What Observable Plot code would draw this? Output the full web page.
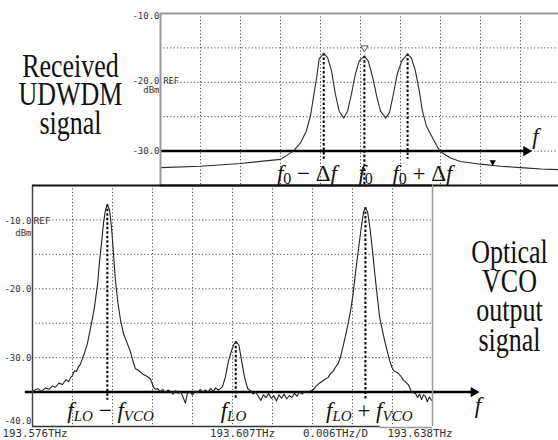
<!DOCTYPE html>
<html><head><meta charset="utf-8">
<script src="https://cdn.jsdelivr.net/npm/d3@7"></script>
<script src="https://cdn.jsdelivr.net/npm/@observablehq/plot@0.6"></script>
<style>
body{margin:0;background:#fff}
#wrap{position:relative;width:558px;height:440px;overflow:hidden;background:#fff}
#top,#bot{position:absolute;left:0}
#top{top:0;width:560px}
#bot{top:180px;width:558px}
#wrap svg{max-width:none !important;overflow:visible}
</style></head><body>
<div id="wrap"><div id="top"></div><div id="bot"></div></div>
<script>
// ---------- data (frequency offsets in GHz from 193.576 THz, power in dBm) ----------
const topSpan = [20, 82];
const botSpan = [0, 62];
const divGHz = 6.2;

const topFreq = [20.0, 26.2, 32.4, 35.5, 38.6, 40.6, 41.7, 42.6, 43.25, 43.7,
  44.2, 44.6, 45.3, 45.9, 46.5, 47.1, 47.7, 48.4, 49.0, 49.6,
  50.2, 50.8, 51.6, 52.2, 52.9, 53.5, 54.1, 54.9, 55.5, 56.1,
  56.7, 57.4, 58.3, 58.9, 59.5, 60.1, 60.6, 61.2, 61.85, 62.8,
  63.4, 64.95, 66.5, 69.6, 72.7, 75.8, 79.0, 82.0];
const topPower = [-32.4, -32.2, -31.8, -31.5, -31.2, -30.0, -28.8, -27.1, -24.9, -22.2,
  -19.3, -16.6, -15.8, -16.4, -18.3, -21.7, -24.2, -25.2, -24.2, -21.7,
  -18.8, -16.9, -16.2, -16.9, -19.3, -22.0, -24.2, -25.2, -24.4, -21.7,
  -18.8, -16.9, -15.9, -16.5, -18.3, -21.2, -24.2, -26.3, -27.5, -29.2,
  -30.1, -31.0, -31.5, -31.9, -32.2, -32.4, -32.6, -32.7];

const botFreq = [
  0.15, 0.8, 1.4, 2.0, 2.6, 3.1, 3.55, 4.1, 4.65, 5.2, 5.6, 5.9, 6.2, 6.5, 6.8, 7.15, 7.45, 7.75,
  8.1, 8.5, 8.8, 9.15, 9.6, 10.1, 10.4, 10.7, 11.0, 11.3, 11.6, 11.95, 12.25, 12.55, 12.85, 13.25,
  13.65, 14.1, 14.55, 15.2, 15.6, 15.95, 16.35, 16.75, 17.1, 17.5, 17.9, 18.3, 18.75, 19.1, 19.4,
  19.8, 20.2, 20.6, 21.0, 21.4, 21.8, 22.2, 22.6, 23.0, 23.4, 23.7, 24.0, 24.4, 24.8, 25.2, 25.6,
  26.0, 26.4, 26.8, 27.2, 27.6, 28.0, 28.4, 28.8, 29.1,
  29.45, 29.9, 30.4, 30.85, 31.25, 31.6, 32.0, 32.4, 32.85, 33.35, 33.8,
  34.2, 34.6, 35.0, 35.4, 35.8, 36.2, 36.6, 37.0, 37.4, 37.8, 38.2, 38.6, 39.0, 39.4, 39.8, 40.2,
  40.6, 41.0, 41.4, 41.8, 42.2, 42.7, 43.1,
  43.4, 43.9, 44.35, 44.8, 45.4, 45.8, 46.2, 46.6, 46.95, 47.35, 47.75, 48.35, 48.8, 49.3, 49.7,
  50.05, 50.5, 50.9, 51.3, 51.6, 51.95, 52.3, 52.7, 53.0, 53.45, 53.8, 54.25, 54.7, 55.35, 55.7,
  56.0, 56.4, 56.75, 57.1, 57.5, 57.9, 58.3, 58.75, 59.05, 59.35, 59.7, 60.0, 60.3, 60.6, 60.9,
  61.2, 61.5, 61.85];
const botPower = [
  -34.8, -34.5, -34.9, -34.4, -34.6, -34.1, -34.3, -33.7, -33.9, -33.2, -33.5, -32.9, -32.6, -31.9, -32.0, -31.3, -30.9, -30.1,
  -29.2, -28.0, -26.6, -25.0, -22.7, -19.2, -15.9, -13.4, -10.5, -8.6, -7.8, -8.6, -11.1, -14.9, -18.8, -22.1,
  -24.6, -26.5, -27.6, -29.2, -30.6, -31.6, -31.8, -32.1, -32.4, -32.6, -32.8, -33.1, -34.3, -34.6, -34.5,
  -34.9, -34.6, -35.1, -34.7, -34.9, -35.3, -34.8, -35.2, -35.0, -35.9, -36.6, -35.2, -35.0, -35.4, -34.9, -35.1,
  -34.6, -35.0, -34.7, -35.0, -34.5, -34.9, -34.4, -34.7, -34.5,
  -34.2, -32.8, -30.4, -29.0, -28.0, -27.7, -28.2, -30.4, -32.8, -34.5, -34.8,
  -35.3, -35.0, -35.6, -36.2, -35.4, -35.8, -35.2, -35.9, -35.5, -36.3, -35.4, -35.9, -35.3, -36.0, -35.5, -35.8,
  -35.2, -35.6, -35.0, -35.3, -34.9, -35.1, -34.8,
  -34.8, -34.2, -33.8, -33.5, -33.1, -32.9, -32.3, -32.0, -31.4, -30.9, -29.9, -27.5, -25.6, -23.2, -20.7,
  -17.8, -14.4, -11.5, -8.9, -8.2, -8.9, -11.1, -14.4, -17.3, -21.2, -24.1, -26.1, -28.0, -30.4, -31.4,
  -31.9, -32.1, -32.3, -32.7, -33.3, -33.6, -34.0, -35.0, -35.1, -35.2, -35.8, -35.3, -36.1, -35.4, -35.6,
  -36.4, -35.7, -36.2];

// marker lines (dashed) : frequency, peak power, lower end
const topMarkFreq = [45.3, 51.6, 58.3];
const topMarkPeak = [-15.8, -16.2, -15.9];
const topMarkEnd = [-31.2, -35, -31.2];
const botMarkFreq = [11.6, 31.5, 51.6];
const botMarkPeak = [-7.8, -27.7, -8.2];
const botMarkEnd = [-36.2, -36.2, -36.0];

// label texts
const topLabelFreq = [42.7, 51.8, 60.6];
const topLabelParts = [
  [["f", "i"], ["0", "s"], ["\u00a0\u2212\u00a0\u0394", "r"], ["f", "i"]],
  [["f", "i"], ["0", "s"]],
  [["f", "i"], ["0", "s"], ["\u00a0+\u00a0\u0394", "r"], ["f", "i"]]
];
const botLabelFreq = [12.1, 31.15, 52.2];
const botLabelParts = [
  [["f", "i"], ["LO", "si"], ["\u00a0\u2212\u00a0", "r"], ["f", "i"], ["VCO", "si"]],
  [["f", "i"], ["LO", "si"]],
  [["f", "i"], ["LO", "si"], ["\u00a0+\u00a0", "r"], ["f", "i"], ["VCO", "si"]]
];
const topTicks = [-10, -20, -30];
const topTickLabels = ["-10.0", "-20.0", "-30.0"];
const botTicks = [-10, -20, -30, -40];
const botTickLabels = ["-10.0", "-20.0", "-30.0", "-40.0"];
const freqLabels = ["193.576THz", "193.607THz", "0.006THz/D", "193.638THz"];
const leftCaption = "Received\nUDWDM\nsignal";
const rightCaption = "Optical\nVCO\noutput\nsignal";

// ---------- helpers ----------
const topData = topFreq.map((f, i) => ({f, p: topPower[i]}));
const botData = botFreq.map((f, i) => ({f, p: botPower[i]}));
const topMarks = topMarkFreq.map((f, i) => ({f, peak: topMarkPeak[i], end: topMarkEnd[i]}));
const botMarks = botMarkFreq.map((f, i) => ({f, peak: botMarkPeak[i], end: botMarkEnd[i]}));
const plain = parts => parts.map(p => p[0]).join("");

const serif = "'Liberation Serif','Times New Roman',serif";
const mono = "'DejaVu Sans Mono','Liberation Mono',monospace";
const grid = {stroke: "#4d4d4d", strokeWidth: 1, strokeDasharray: "1.2,2.2"};
const dash = {stroke: "#000", strokeWidth: 2, strokeDasharray: "2.5,2"};
const tick = {fontFamily: mono, fontSize: 9, fill: "#333"};

function stretch(svg, k) {
  d3.select(svg).selectAll('g[aria-description="stretch"] text').each(function() {
    const t = this.getAttribute("transform");
    if (t) this.setAttribute("transform", t + ` scale(1,${k})`);
    else { this.style.transformBox = "fill-box"; this.style.transformOrigin = "center bottom"; this.style.transform = `scaleY(${k})`; }
  });
}
function mathify(svg, desc, partsList, subSize, shift) {
  d3.select(svg).selectAll(`g[aria-description="${desc}"] text`).each(function(d, i) {
    const idx = typeof d === "number" ? d : i;
    const parts = partsList[idx];
    if (!parts) return;
    const sel = d3.select(this);
    sel.text(null);
    let down = false;
    for (const [s, kind] of parts) {
      const isSub = kind === "s" || kind === "si";
      const t = sel.append("tspan").text(s);
      t.attr("font-style", (kind === "i" || kind === "si") ? "italic" : "normal");
      if (isSub) t.attr("font-size", subSize);
      if (isSub && !down) { t.attr("dy", shift); down = true; }
      else if (!isSub && down) { t.attr("dy", -shift); down = false; }
    }
  });
}

// ---------- top panel ----------
const topGridX = d3.range(1, 11).map(i => topSpan[0] + i * divGHz);
const topPlot = Plot.plot({
  width: 560, height: 190,
  marginLeft: 160, marginRight: 0, marginTop: 13, marginBottom: 5,
  x: {domain: topSpan, axis: null},
  y: {domain: [-35, -10], axis: null},
  style: {background: "transparent", overflow: "visible"},
  marks: [
    Plot.ruleX(topGridX, {y1: -10, y2: -35, ...grid}),
    Plot.ruleY([-15, -20, -25, -30], {x1: topSpan[0], x2: topSpan[1], ...grid}),
    Plot.ruleY([-30], {x1: topSpan[0], x2: 77.0, stroke: "#000", strokeWidth: 2.5}),
    Plot.dot([{f: 77.6, p: -30}], {x: "f", y: "p", symbol: "triangle", r: 3.8, rotate: 90, dx: -5.9, fill: "#000", stroke: "none"}),
    Plot.ruleX(topMarks, {x: "f", y1: "peak", y2: "end", ...dash}),
    Plot.line(topData, {x: "f", y: "p", stroke: "#2b2b2b", strokeWidth: 1.1}),
    Plot.dot([{f: 51.6, p: -15.0}], {x: "f", y: "p", symbol: "triangle", r: 2.6, rotate: 180, fill: "#fff", stroke: "#555", strokeWidth: 1}),
    Plot.dot([{f: 71.5, p: -31.6}], {x: "f", y: "p", symbol: "triangle", r: 2.3, rotate: 180, fill: "#000", stroke: "none"}),
    Plot.ruleY([-10], {x1: topSpan[0], x2: topSpan[1], stroke: "#999", strokeWidth: 2}),
    Plot.ruleX([topSpan[0]], {y1: -10, y2: -35, stroke: "#999", strokeWidth: 2}),
    Plot.ruleY([-35], {x1: topSpan[0], x2: topSpan[1], stroke: "#111", strokeWidth: 2}),
    Plot.text([topTickLabels[0]], {y: () => topTicks[0], frameAnchor: "left", textAnchor: "end", dx: -1, dy: 3, ...tick}),
    Plot.text([topTickLabels[1]], {y: () => topTicks[1], frameAnchor: "left", textAnchor: "end", dx: -1, dy: -1, ...tick}),
    Plot.text([topTickLabels[2]], {y: () => topTicks[2], frameAnchor: "left", textAnchor: "end", dx: -1, ...tick}),
    Plot.text(["REF"], {y: () => topTicks[1], frameAnchor: "left", textAnchor: "start", dx: 3, dy: -1, ...tick, fontSize: 8.5}),
    Plot.text(["dBm"], {y: () => topTicks[1], frameAnchor: "left", textAnchor: "end", dx: -1, dy: 8, ...tick}),
    Plot.text([leftCaption], {frameAnchor: "top-left", dx: -90, dy: 120, textAnchor: "middle", lineAnchor: "bottom", lineHeight: 0.843, fontFamily: serif, fontSize: 26, fill: "#111", ariaDescription: "stretch"}),
    Plot.text(topLabelParts.map(plain), {x: (d, i) => topLabelFreq[i], y: () => -34.4, textAnchor: "middle", lineAnchor: "bottom", fontFamily: serif, fontSize: 23, fill: "#111", ariaDescription: "ftop"}),
    Plot.text(["f"], {x: () => 78.1, y: () => -28.9, textAnchor: "middle", lineAnchor: "bottom", fontFamily: serif, fontSize: 23, fontStyle: "italic", fill: "#111"})
  ]
});
stretch(topPlot, 1.3);
mathify(topPlot, "ftop", topLabelParts, 16, 3);
document.getElementById("top").appendChild(topPlot);

// ---------- bottom panel ----------
const botGridX = d3.range(1, 10).map(i => botSpan[0] + i * divGHz);
const botPlot = Plot.plot({
  width: 558, height: 260,
  marginLeft: 32, marginRight: 126, marginTop: 5, marginBottom: 14,
  x: {domain: botSpan, axis: null},
  y: {domain: [-40, -5], axis: null},
  style: {background: "transparent", overflow: "visible"},
  marks: [
    Plot.ruleX(botGridX, {y1: -5, y2: -40, ...grid}),
    Plot.ruleY([-10, -15, -20, -25, -30, -35], {x1: botSpan[0], x2: botSpan[1], ...grid}),
    Plot.ruleY([-35], {x1: -1.1, x2: 68.6, stroke: "#000", strokeWidth: 2.5}),
    Plot.dot([{f: 69.3, p: -35}], {x: "f", y: "p", symbol: "triangle", r: 3.8, rotate: 90, dx: -5.9, fill: "#000", stroke: "none"}),
    Plot.ruleX(botMarks, {x: "f", y1: "peak", y2: "end", ...dash}),
    Plot.line(botData, {x: "f", y: "p", stroke: "#222", strokeWidth: 1.1}),
    Plot.ruleX([botSpan[0]], {y1: -5, y2: -40, stroke: "#444", strokeWidth: 1.5}),
    Plot.ruleX([botSpan[1]], {y1: -5, y2: -40, stroke: "#999", strokeWidth: 1.5}),
    Plot.ruleY([-40], {x1: botSpan[0], x2: 53.9, stroke: "#333", strokeWidth: 1.5}),
    Plot.ruleY([-40], {x1: 53.9, x2: botSpan[1], stroke: "#999", strokeWidth: 1.5, dy: 1}),
    Plot.ruleY([-5], {x1: botSpan[0], x2: botSpan[1], stroke: "#111", strokeWidth: 2}),
    Plot.text([botTickLabels[0]], {y: () => botTicks[0], frameAnchor: "left", textAnchor: "end", dx: -1, dy: 1, ...tick}),
    Plot.text(botTickLabels.slice(1, 3), {y: (d, i) => botTicks[i + 1], frameAnchor: "left", textAnchor: "end", dx: -1, ...tick}),
    Plot.text([botTickLabels[3]], {y: () => botTicks[3], frameAnchor: "left", textAnchor: "end", dx: -1, dy: -5, ...tick}),
    Plot.text(["REF"], {y: () => botTicks[0], frameAnchor: "left", textAnchor: "start", dx: 1, dy: 1, ...tick, fontSize: 9.5}),
    Plot.text(["dBm"], {y: () => botTicks[0], frameAnchor: "left", textAnchor: "end", dx: -1, dy: 13, ...tick}),
    Plot.text([freqLabels[0]], {frameAnchor: "bottom-left", textAnchor: "start", lineAnchor: "top", dx: -30, dy: 3, fontFamily: mono, fontSize: 10.8, fill: "#333"}),
    Plot.text([freqLabels[1]], {frameAnchor: "bottom", textAnchor: "middle", lineAnchor: "top", dx: 10, dy: 3, fontFamily: mono, fontSize: 10.8, fill: "#333"}),
    Plot.text([freqLabels[2]], {frameAnchor: "bottom", textAnchor: "middle", lineAnchor: "top", dx: 103, dy: 3, fontFamily: mono, fontSize: 10.8, fill: "#333"}),
    Plot.text([freqLabels[3]], {frameAnchor: "bottom-right", textAnchor: "end", lineAnchor: "top", dx: 20, dy: 3, fontFamily: mono, fontSize: 10.8, fill: "#333"}),
    Plot.text([rightCaption], {frameAnchor: "top-right", dx: 77, dy: 165, textAnchor: "middle", lineAnchor: "bottom", lineHeight: 0.867, fontFamily: serif, fontSize: 26, fill: "#111", ariaDescription: "stretch"}),
    Plot.text(botLabelParts.map(plain), {x: (d, i) => botLabelFreq[i], y: () => -38.8, textAnchor: "middle", lineAnchor: "bottom", fontFamily: serif, fontSize: 23, fill: "#111", ariaDescription: "fbot"}),
    Plot.text(["f"], {x: () => 69.05, y: () => -38.1, textAnchor: "middle", lineAnchor: "bottom", fontFamily: serif, fontSize: 23, fontStyle: "italic", fill: "#111"})
  ]
});
stretch(botPlot, 1.3);
mathify(botPlot, "fbot", botLabelParts, 15, 3);
document.getElementById("bot").appendChild(botPlot);
</script></body></html>
